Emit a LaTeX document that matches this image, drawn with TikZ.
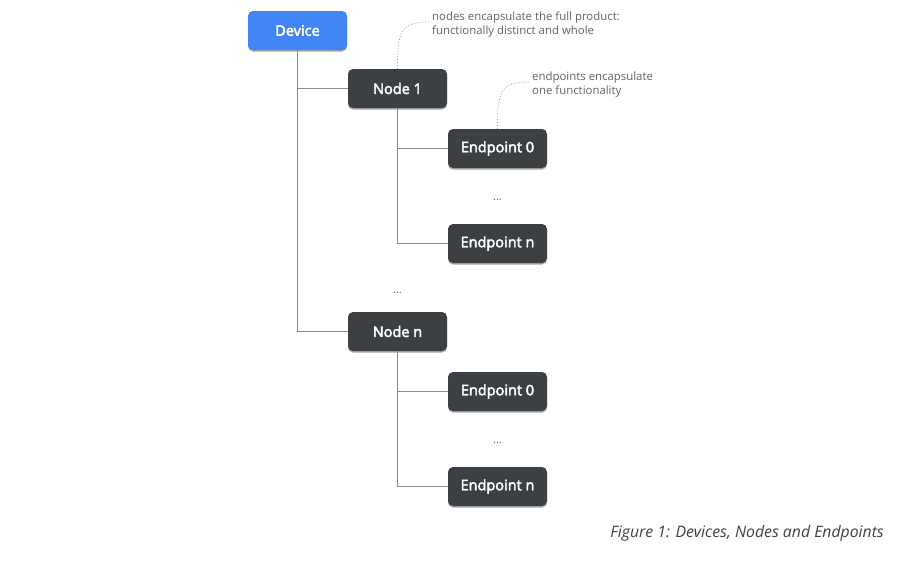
\documentclass[tikz,border=0pt]{standalone}
\usepackage{fontspec}
\setmainfont{Open Sans}
\newfontfamily\boxfont[FakeBold=3]{Open Sans}
\usetikzlibrary{shadows}
\definecolor{devblue}{HTML}{4285F4}
\definecolor{darkbox}{HTML}{3C4043}
\definecolor{linegray}{HTML}{8A8A8A}
\definecolor{notegray}{HTML}{5F6368}
\definecolor{capgray}{HTML}{3C4043}
\tikzset{
  box/.style={rounded corners=5pt, minimum width=99pt, minimum height=39pt,
    text=white, font=\boxfont\fontsize{14.5}{17}\selectfont, inner sep=0pt,
    drop shadow={shadow xshift=0pt, shadow yshift=-1.5pt, opacity=0.35, fill=black}},
  devbox/.style={box, fill=devblue},
  nbox/.style={box, fill=darkbox},
  link/.style={draw=linegray, line width=0.8pt},
  note/.style={text=notegray, font=\fontsize{11.4}{14}\selectfont, align=left, anchor=west, inner sep=0pt},
  notecurve/.style={draw=gray!70, dotted, line width=0.9pt},
  dots/.style={text=notegray, font=\fontsize{11}{13}\selectfont, inner sep=0pt}
}
\begin{document}
\begin{tikzpicture}[x=1pt,y=-1pt]
\useasboundingbox (0,0) rectangle (904,560);
\node[devbox] (dev) at (297.5,30.5) {Device};
\node[nbox] (n1) at (397.5,88.5) {Node 1};
\node[nbox] (e10) at (497.5,148.5) {Endpoint 0};
\node[dots] (d1) at (497.5,200) {...};
\node[nbox] (e1n) at (497.5,243.5) {Endpoint n};
\node[dots] (d0) at (397.5,293) {...};
\node[nbox] (nn) at (397.5,331.5) {Node n};
\node[nbox] (en0) at (497.5,391.5) {Endpoint 0};
\node[dots] (d2) at (497.5,443) {...};
\node[nbox] (enn) at (497.5,486.5) {Endpoint n};

\coordinate (j1) at (297.5,88.5);
\coordinate (jn) at (297.5,331.5);
\draw[link] (dev.south) -- (jn) -- (nn.west);
\draw[link] (j1) -- (n1.west);

\coordinate (k1) at (397.5,148.5);
\coordinate (k2) at (397.5,243.5);
\draw[link] (n1.south) -- (k2) -- (e1n.west);
\draw[link] (k1) -- (e10.west);

\coordinate (m1) at (397.5,391.5);
\coordinate (m2) at (397.5,486.5);
\draw[link] (nn.south) -- (m2) -- (enn.west);
\draw[link] (m1) -- (en0.west);

\node[note] (note1) at (432,24.5) {nodes encapsulate the full product:\\functionally distinct and whole};
\node[note] (note2) at (532,84.5) {endpoints encapsulate\\one functionality};
\coordinate (a1) at (429,22);
\coordinate (a2) at (529,82);
\draw[notecurve] (n1.north) .. controls (397.5,32) and (400,22) .. (a1);
\draw[notecurve] (e10.north) .. controls (497.5,92) and (500,82) .. (a2);

\node[text=capgray, font=\fontsize{15.8}{18}\selectfont\itshape, anchor=east, inner sep=0pt] (cap) at (884,533) {Figure 1: Devices, Nodes and Endpoints};
\end{tikzpicture}
\end{document}
